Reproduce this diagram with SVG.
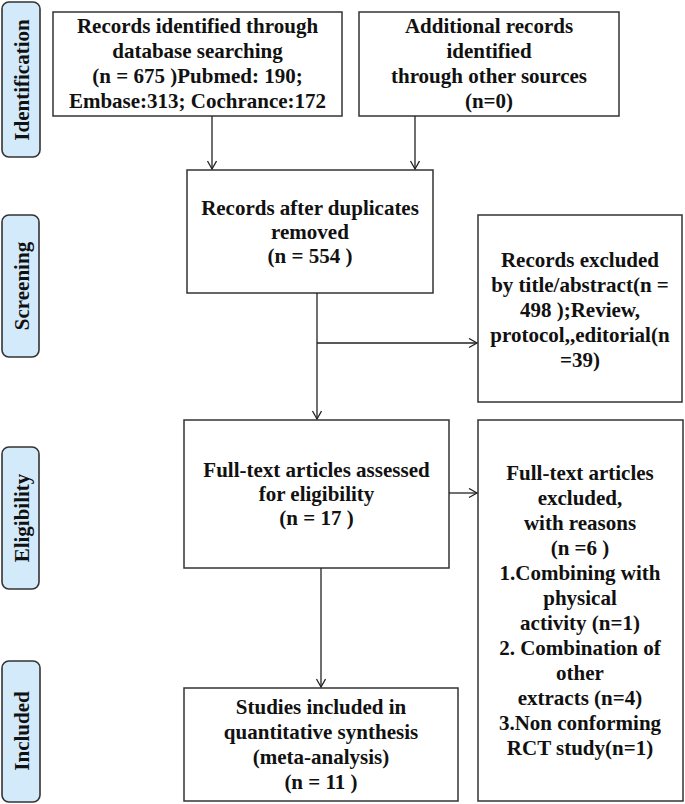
<svg xmlns="http://www.w3.org/2000/svg" width="685" height="804" viewBox="0 0 685 804">
<style>
.box{fill:#fff;stroke:#333;stroke-width:1.5}
.lab{fill:#d3eafb;stroke:#333;stroke-width:1.6}
.t{font-family:"Liberation Serif","Times New Roman",serif;font-weight:bold;font-size:21px;fill:#111;text-anchor:middle}
.c{fill:none;stroke:#222;stroke-width:1.3}
</style>
<defs>
<marker id="ah" markerUnits="userSpaceOnUse" markerWidth="12" markerHeight="12" refX="9" refY="5" orient="auto">
<path d="M1,0.5 L9,5 L1,9.5" fill="none" stroke="#222" stroke-width="1.3"/>
</marker>
</defs>
<rect width="685" height="804" fill="#fff"/>
<g id="stage-identification">
<rect class="lab" x="2" y="2" width="38" height="155" rx="7"/>
<text class="t" transform="translate(29,80) rotate(-90)">Identification</text>
</g>
<g id="stage-screening">
<rect class="lab" x="2" y="215" width="37" height="142" rx="7"/>
<text class="t" transform="translate(29,286) rotate(-90)">Screening</text>
</g>
<g id="stage-eligibility">
<rect class="lab" x="2" y="447" width="37" height="142" rx="7"/>
<text class="t" transform="translate(29,518) rotate(-90)">Eligibility</text>
</g>
<g id="stage-included">
<rect class="lab" x="2" y="661" width="38" height="141" rx="7"/>
<text class="t" transform="translate(29,731) rotate(-90)">Included</text>
</g>
<g id="n-database">
<rect class="box" x="53" y="12" width="289" height="104"/>
<text class="t" x="197.5" y="33">Records identified through</text>
<text class="t" x="197.5" y="58">database searching</text>
<text class="t" x="197.5" y="83">(n = 675 )Pubmed: 190;</text>
<text class="t" x="197.5" y="108">Embase:313; Cochrance:172</text>
</g>
<g id="n-other">
<rect class="box" x="359" y="12" width="260" height="104"/>
<text class="t" x="489" y="33">Additional records</text>
<text class="t" x="489" y="58">identified</text>
<text class="t" x="489" y="83">through other sources</text>
<text class="t" x="489" y="108">(n=0)</text>
</g>
<g id="n-dedup">
<rect class="box" x="187" y="170" width="246" height="123"/>
<text class="t" x="310" y="215">Records after duplicates</text>
<text class="t" x="310" y="239">removed</text>
<text class="t" x="310" y="263">(n = 554 )</text>
</g>
<g id="n-excluded1">
<rect class="box" x="478" y="215" width="204" height="187"/>
<text class="t" x="580" y="267">Records excluded</text>
<text class="t" x="580" y="292">by title/abstract(n =</text>
<text class="t" x="580" y="317">498 );Review,</text>
<text class="t" x="580" y="342">protocol,,editorial(n</text>
<text class="t" x="580" y="367">=39)</text>
</g>
<g id="n-fulltext">
<rect class="box" x="184" y="420" width="265" height="148"/>
<text class="t" x="316.5" y="477">Full-text articles assessed</text>
<text class="t" x="316.5" y="501">for eligibility</text>
<text class="t" x="316.5" y="525">(n = 17 )</text>
</g>
<g id="n-excluded2">
<rect class="box" x="478" y="420" width="205" height="381"/>
<text class="t" x="580" y="480">Full-text articles</text>
<text class="t" x="580" y="505">excluded,</text>
<text class="t" x="580" y="530">with reasons</text>
<text class="t" x="580" y="555">(n =6 )</text>
<text class="t" x="580" y="580">1.Combining with</text>
<text class="t" x="580" y="605">physical</text>
<text class="t" x="580" y="630">activity (n=1)</text>
<text class="t" x="580" y="655">2. Combination of</text>
<text class="t" x="580" y="680">other</text>
<text class="t" x="580" y="705">extracts (n=4)</text>
<text class="t" x="580" y="730">3.Non conforming</text>
<text class="t" x="580" y="755">RCT study(n=1)</text>
</g>
<g id="n-included">
<rect class="box" x="184" y="688" width="274" height="113"/>
<text class="t" x="321" y="714">Studies included in</text>
<text class="t" x="321" y="739">quantitative synthesis</text>
<text class="t" x="321" y="764">(meta-analysis)</text>
<text class="t" x="321" y="789">(n = 11 )</text>
</g>
<g id="connectors">
<line class="c" x1="212" y1="116" x2="212" y2="169" marker-end="url(#ah)"/>
<line class="c" x1="415" y1="116" x2="415" y2="169" marker-end="url(#ah)"/>
<line class="c" x1="317" y1="293" x2="317" y2="419" marker-end="url(#ah)"/>
<line class="c" x1="317" y1="343" x2="477" y2="343" marker-end="url(#ah)"/>
<line class="c" x1="449" y1="493" x2="477" y2="493" marker-end="url(#ah)"/>
<line class="c" x1="321" y1="568" x2="321" y2="687" marker-end="url(#ah)"/>
</g>
</svg>
